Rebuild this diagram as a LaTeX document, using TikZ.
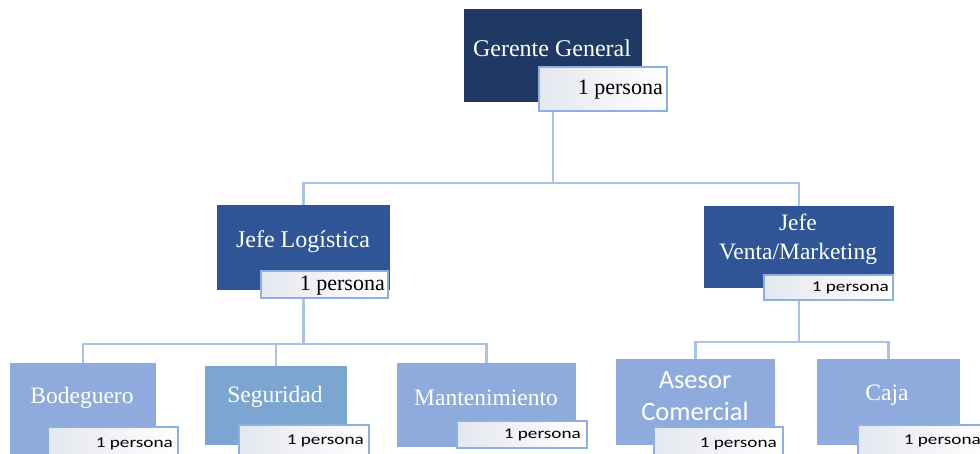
\documentclass[tikz,border=0pt]{standalone}
\usepackage{fontspec}
\setmainfont{Liberation Serif}
\newfontfamily\carlitofont{Carlito}
\newfontfamily\labfont[FakeStretch=1.28]{Carlito}
\definecolor{navy}{HTML}{1F3864}
\definecolor{midblue}{HTML}{2F5597}
\definecolor{lightblue}{HTML}{8FAADC}
\definecolor{segblue}{HTML}{7DA5D2}
\definecolor{connc}{HTML}{A9C2E6}
\definecolor{labborder}{HTML}{8DB0E0}
\definecolor{labfill}{HTML}{E4E7EF}
\tikzset{
  boxbase/.style={anchor=north west, inner sep=0pt, outer sep=0pt},
  lvlzero/.style={boxbase, fill=navy},
  lvlone/.style={boxbase, fill=midblue},
  lvltwo/.style={boxbase, fill=lightblue},
  lvlseg/.style={boxbase, fill=segblue},
  labbox/.style={boxbase, draw=labborder, line width=1.5pt, left color=labfill, right color=white},
  title/.style={text=white, inner sep=0pt, align=center, font=\fontsize{23.5}{29}\selectfont},
  sanstitle/.style={text=white, inner sep=0pt, align=center, font=\carlitofont\fontsize{26.5}{32}\selectfont},
  serlab/.style={anchor=east, inner sep=0pt, text=black, font=\fontsize{22}{24}\selectfont},
  sanlab/.style={anchor=east, inner sep=0pt, text=black, font=\labfont\fontsize{15}{17}\selectfont},
  conn/.style={draw=connc, line width=2.5pt}
}
\begin{document}
\begin{tikzpicture}[x=1pt,y=-1pt]
\useasboundingbox (0,0) rectangle (980,453);
\clip (0,0) rectangle (980,453);
% boxes (placed first for anchors, drawn on top of connectors via layers order)
\coordinate (b1) at (0,183);
\coordinate (b2) at (0,344);
\coordinate (b3) at (0,342);
% invisible geometry nodes for connector anchors
\path
  (464,9) node[boxbase, minimum width=178pt, minimum height=93pt] (gg) {}
  (539,67) node[boxbase, minimum width=128pt, minimum height=44pt] (ggl) {}
  (217,205) node[boxbase, minimum width=173pt, minimum height=85pt] (jl) {}
  (261,271) node[boxbase, minimum width=127pt, minimum height=27pt] (jll) {}
  (704,206) node[boxbase, minimum width=190pt, minimum height=82pt] (jv) {}
  (764,275) node[boxbase, minimum width=129pt, minimum height=25pt] (jvl) {}
  (10,363) node[boxbase, minimum width=146pt, minimum height=95pt] (bo) {}
  (205,366) node[boxbase, minimum width=142pt, minimum height=79pt] (se) {}
  (397,363) node[boxbase, minimum width=179pt, minimum height=84pt] (ma) {}
  (616,359) node[boxbase, minimum width=159pt, minimum height=86pt] (as) {}
  (817,359) node[boxbase, minimum width=143pt, minimum height=86pt] (ca) {};
% connectors
\draw[conn] (gg.south |- ggl.south) -- (gg.south |- b1);
\draw[conn] (jl.north) -- (jl.north |- b1) -- (jv.north |- b1) -- (jv.north);
\draw[conn] (jl.south |- jll.south) -- (jl.south |- b2);
\draw[conn] (bo.north) -- (bo.north |- b2) -- (ma.north |- b2) -- (ma.north);
\draw[conn] (se.north) -- (se.north |- b2);
\draw[conn] (jv.south |- jvl.south) -- (jv.south |- b3);
\draw[conn] (as.north) -- (as.north |- b3) -- (ca.north |- b3) -- (ca.north);
% filled boxes
\node[lvlzero, minimum width=178pt, minimum height=93pt] (ggbox) at (464,9) {};
\node[lvlone, minimum width=173pt, minimum height=85pt] (jlbox) at (217,205) {};
\node[lvlone, minimum width=190pt, minimum height=82pt] (jvbox) at (704,206) {};
\node[lvltwo, minimum width=146pt, minimum height=95pt] (bobox) at (10,363) {};
\node[lvlseg, minimum width=142pt, minimum height=79pt] (sebox) at (205,366) {};
\node[lvltwo, minimum width=179pt, minimum height=84pt] (mabox) at (397,363) {};
\node[lvltwo, minimum width=159pt, minimum height=86pt] (asbox) at (616,359) {};
\node[lvltwo, minimum width=143pt, minimum height=86pt] (cabox) at (817,359) {};
% titles
\node[title, font=\fontsize{24}{28}\selectfont] (ggt) at (552,48) {Gerente General};
\node[title, font=\fontsize{24}{28}\selectfont] (jlt) at (303,242) {Jefe Logística};
\node[title] (jvt) at (798,239) {Jefe\\Venta/Marketing};
\node[title] (bot) at (82,398) {Bodeguero};
\node[title] (set) at (275,397) {Seguridad};
\node[title] (mat) at (486,398) {Mantenimiento};
\node[sanstitle] (ast) at (695,396) {Asesor\\Comercial};
\node[title] (cat) at (887,395) {Caja};
% person labels
\node[labbox, minimum width=128pt, minimum height=44pt] (gglbox) at (539,67) {};
\node[serlab] (gglt) at ([xshift=-4pt,yshift=-1pt]gglbox.east) {1 persona};
\node[labbox, minimum width=127pt, minimum height=27pt] (jllbox) at (261,271) {};
\node[serlab] (jllt) at ([xshift=-3pt,yshift=-1pt]jllbox.east) {1 persona};
\node[labbox, minimum width=129pt, minimum height=25pt] (jvlbox) at (764,275) {};
\node[sanlab] (jvlt) at ([xshift=-4pt]jvlbox.east) {1 persona};
\node[labbox, minimum width=130pt, minimum height=30pt] (bolbox) at (48,427) {};
\node[sanlab] (bolt) at ([xshift=-5pt,yshift=-2pt]bolbox.east) {1 persona};
\node[labbox, minimum width=130pt, minimum height=30pt] (selbox) at (239,425) {};
\node[sanlab] (selt) at ([xshift=-5pt,yshift=-1pt]selbox.east) {1 persona};
\node[labbox, minimum width=130pt, minimum height=27pt] (malbox) at (457,421) {};
\node[sanlab] (malt) at ([xshift=-6pt]malbox.east) {1 persona};
\node[labbox, minimum width=129pt, minimum height=30pt] (aslbox) at (654,427) {};
\node[sanlab] (aslt) at ([xshift=-6pt,yshift=-2pt]aslbox.east) {1 persona};
\node[labbox, minimum width=130pt, minimum height=30pt] (calbox) at (858,425) {};
\node[sanlab] (calt) at ([xshift=-7pt,yshift=-1pt]calbox.east) {1 persona};
\end{tikzpicture}
\end{document}
